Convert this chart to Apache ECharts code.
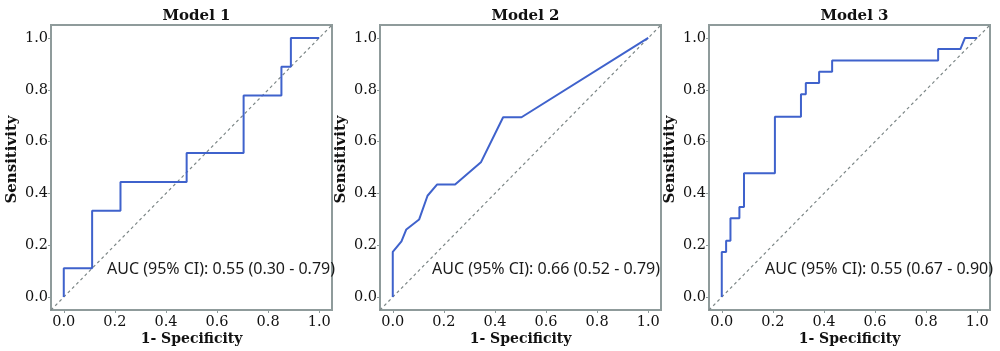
<!DOCTYPE html>
<html>
<head>
<meta charset="utf-8">
<script src="https://cdn.jsdelivr.net/npm/echarts@6/dist/echarts.min.js"></script>
<style>
	html, body { margin: 0; padding: 0; background: #fff; }
	#chart { width: 1000px; height: 351px; }
</style>
</head>
<body>
<div id="chart"></div>
<script>
// ROC curves: [1 - specificity, sensitivity]
var model1 = [[0, 0], [0, 0.111], [0.111, 0.111], [0.111, 0.333], [0.222, 0.333], [0.222, 0.444],
	[0.481, 0.444], [0.481, 0.556], [0.704, 0.556], [0.704, 0.778], [0.852, 0.778], [0.852, 0.889],
	[0.889, 0.889], [0.889, 1], [1, 1]];
var model2 = [[0, 0], [0, 0.174], [0.034, 0.215], [0.053, 0.261], [0.103, 0.299], [0.136, 0.391],
	[0.173, 0.434], [0.244, 0.434], [0.345, 0.52], [0.432, 0.694], [0.504, 0.694], [1, 1]];
var model3 = [[0, 0], [0, 0.174], [0.017, 0.174], [0.017, 0.217], [0.034, 0.217], [0.034, 0.304],
	[0.069, 0.304], [0.069, 0.348], [0.087, 0.348], [0.087, 0.478], [0.208, 0.478], [0.208, 0.696],
	[0.31, 0.696], [0.31, 0.783], [0.329, 0.783], [0.329, 0.826], [0.381, 0.826], [0.381, 0.87],
	[0.432, 0.87], [0.432, 0.913], [0.847, 0.913], [0.847, 0.957], [0.934, 0.957], [0.952, 1], [1, 1]];
var diagonal = [[-0.05, -0.05], [1.05, 1.05]];
var tickValues = [0, 0.2, 0.4, 0.6, 0.8, 1.0];
var titles = ['Model 1', 'Model 2', 'Model 3'];
var aucTexts = ['AUC (95% CI): 0.55 (0.30 - 0.79)', 'AUC (95% CI): 0.66 (0.52 - 0.79)', 'AUC (95% CI): 0.55 (0.67 - 0.90)'];
var curves = [model1, model2, model3];

var serif = '"DejaVu Serif", serif';
var boxColor = '#8f9b9b';
var gridLefts = [51, 380, 709];
var gridWidth = 281;
var aucRight = [330, 655, 988];

var grids = [], xAxes = [], yAxes = [], series = [], titleList = [];

function axis(dim, idx) {
	return {
		type: 'value',
		gridIndex: idx,
		min: -0.05,
		max: 1.05,
		name: dim === 'x' ? '1- Specificity' : 'Sensitivity',
		nameLocation: 'middle',
		nameGap: dim === 'x' ? 22 : 31,
		nameMoveOverlap: dim === 'x' ? false : true,
		nameTextStyle: {
			fontFamily: serif,
			fontWeight: 'bold',
			fontSize: dim === 'x' ? 14 : 15,
			color: '#111',
			padding: dim === 'x' ? 0 : [0, 0, 0, 16]
		},
		axisLine: { show: false, onZero: false },
		axisTick: {
			show: true,
			length: 3,
			customValues: tickValues,
			lineStyle: { color: boxColor }
		},
		splitLine: { show: false },
		axisLabel: {
			customValues: tickValues,
			margin: dim === 'x' ? 5 : 3,
			fontFamily: serif,
			fontSize: 14.5,
			color: '#111',
			formatter: function(v) { return v.toFixed(1); }
		}
	};
}

for (var i = 0; i < 3; i++) {
	grids.push({
		left: gridLefts[i],
		top: 25,
		width: gridWidth,
		height: 285,
		outerBoundsMode: 'none',
		containLabel: false,
		show: true,
		borderColor: boxColor,
		borderWidth: 2,
		backgroundColor: '#fff'
	});
	xAxes.push(axis('x', i));
	yAxes.push(axis('y', i));
	series.push({
		type: 'line',
		xAxisIndex: i,
		yAxisIndex: i,
		data: diagonal,
		showSymbol: false,
		silent: true,
		z: 1,
		lineStyle: { color: '#7d8787', width: 1.2, type: [3, 3] }
	});
	series.push({
		type: 'line',
		xAxisIndex: i,
		yAxisIndex: i,
		data: curves[i],
		showSymbol: false,
		z: 2,
		lineStyle: { color: '#3f62cc', width: 2 }
	});
	titleList.push({
		text: titles[i],
		left: gridLefts[i] + gridWidth / 2,
		top: 4,
		textAlign: 'center',
		textStyle: { fontFamily: serif, fontWeight: 'bold', fontSize: 15, color: '#111' }
	});
	titleList.push({
		text: aucTexts[i],
		left: aucRight[i],
		top: 256,
		textAlign: 'right',
		textStyle: { fontFamily: '"Noto Sans", sans-serif', fontWeight: 'normal', fontSize: 16, color: '#1a1a1a' }
	});
}

var chart = echarts.init(document.getElementById('chart'));
chart.setOption({
	animation: false,
	title: titleList,
	grid: grids,
	xAxis: xAxes,
	yAxis: yAxes,
	series: series
});
</script>
</body>
</html>
